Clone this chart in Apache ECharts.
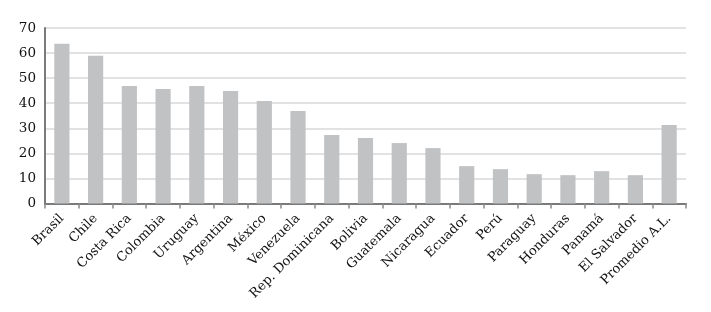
<!DOCTYPE html>
<html>
<head>
<meta charset="utf-8">
<script src="https://cdn.jsdelivr.net/npm/echarts@6/dist/echarts.min.js"></script>
<style>
  html, body { margin: 0; padding: 0; background: #fff; }
  #chart { width: 711px; height: 312px; }
</style>
</head>
<body>
<div id="chart"></div>
<script>
const categories = ['Brasil', 'Chile', 'Costa Rica', 'Colombia', 'Uruguay', 'Argentina', 'México', 'Venezuela',
  'Rep. Dominicana', 'Bolivia', 'Guatemala', 'Nicaragua', 'Ecuador', 'Perú', 'Paraguay', 'Honduras',
  'Panamá', 'El Salvador', 'Promedio A.L.']
const values = [63.7, 58.9, 46.9, 45.7, 46.9, 44.9, 40.9, 36.9, 27.3, 26.1, 24.1, 22.1, 14.9, 13.7, 11.7, 11.3, 12.9, 11.3, 31.3]
const yMin = 0
const yMax = 70
const yStep = 10

const font = 'DejaVu Serif'
const chart = echarts.init(document.getElementById('chart'))

chart.setOption({
  animation: false,
  grid: { left: 45, right: 25, top: 28, bottom: 108.5 },
  xAxis: {
    type: 'category',
    data: categories,
    axisLine: { lineStyle: { color: '#7a7a7a', width: 2 } },
    axisTick: { show: true, length: 5, lineStyle: { color: '#8a8a8a', width: 1.5 } },
    axisLabel: { rotate: 45, margin: 13, color: '#111', fontFamily: font, fontSize: 13 }
  },
  yAxis: {
    type: 'value',
    min: yMin,
    max: yMax,
    interval: yStep,
    axisLine: { show: true, lineStyle: { color: '#7a7a7a', width: 2 } },
    axisTick: { show: false },
    axisLabel: { margin: 9, color: '#111', fontFamily: font, fontSize: 13.5 },
    splitLine: { lineStyle: { color: '#d9d9d9', width: 1.5 } }
  },
  series: [{
    type: 'bar',
    data: values,
    barWidth: '45%',
    itemStyle: { color: '#c1c2c4' }
  }]
})
</script>
</body>
</html>
